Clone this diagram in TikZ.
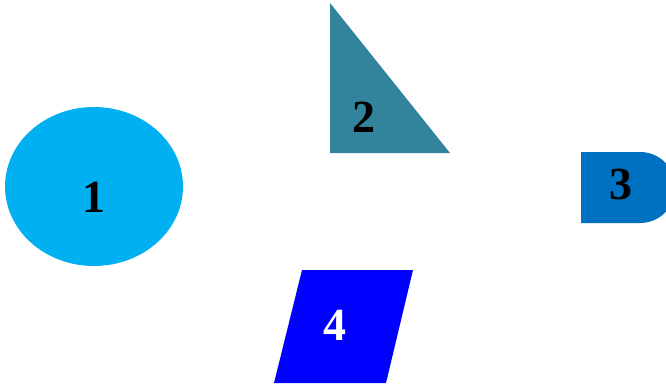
\documentclass[tikz,border=0pt]{standalone}
\usepackage{fontspec}
\setmainfont{Liberation Serif}
\begin{document}
\begin{tikzpicture}[x=1pt,y=-1pt,
  digit/.style={font=\fontsize{46}{46}\selectfont\bfseries, inner sep=0pt, anchor=center}]
\useasboundingbox (0,0) rectangle (666,384);
\clip (0,0) rectangle (666,384);
\definecolor{c1}{HTML}{00B0F0}
\definecolor{c2}{HTML}{31849B}
\definecolor{c3}{HTML}{0070C0}
\definecolor{c4}{HTML}{0000FF}
% 1 ellipse
\fill[c1] (94,186.5) ellipse [x radius=89, y radius=79.5];
\node[digit, text=black] (n1) at (94,197) {1};
% 2 triangle
\fill[c2] (330,3) -- (330,153) -- (450,153) -- cycle;
\node[digit, text=black] (n2) at (364,117) {2};
% 3 D shape
\fill[c3] (581,152) -- (640,152) arc[start angle=-90, end angle=90, radius=35.5] -- (581,223) -- cycle;
\node[digit, text=black] (n3) at (621,184) {3};
% 4 parallelogram
\fill[c4] (302,270) -- (413,270) -- (386,383) -- (274,383) -- cycle;
\node[digit, text=white] (n4) at (335,325) {4};
\end{tikzpicture}
\end{document}
